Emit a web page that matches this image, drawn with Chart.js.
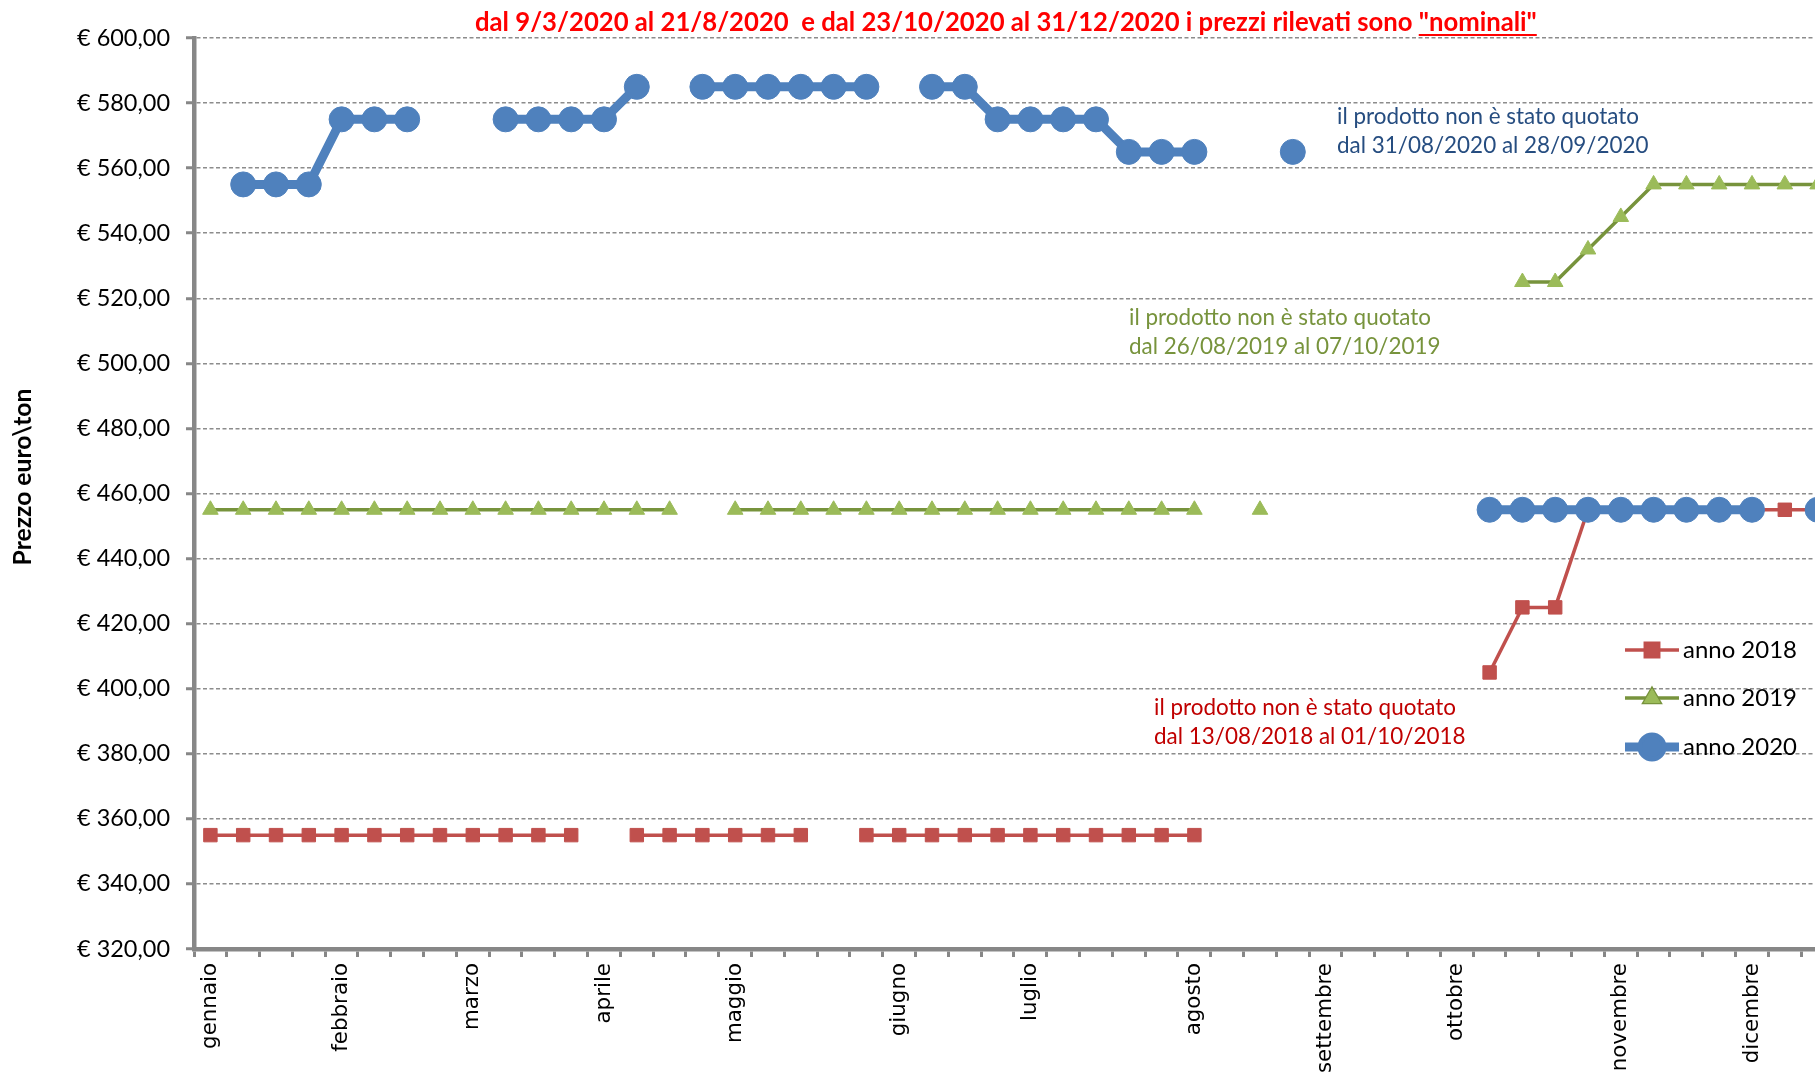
<!DOCTYPE html>
<html>
<head>
<meta charset="utf-8">
<script src="https://cdn.jsdelivr.net/npm/chart.js@4.4.1/dist/chart.umd.min.js"></script>
<style>
  html, body { margin: 0; padding: 0; background: #ffffff; overflow: hidden; }
  #wrap { position: relative; width: 1915px; height: 1079px; }
</style>
</head>
<body>
<div id="wrap"><canvas id="c"></canvas></div>
<script>
// ---- data ----
const weekLabels = ['gennaio','','','','febbraio','','','','marzo','','','','aprile','','','','maggio','','','','','giugno','','','','luglio','','','','','agosto','','','','settembre','','','','ottobre','','','','','novembre','','','','dicembre','','','',''];
const anno2018 = [355,355,355,355,355,355,355,355,355,355,355,355,null,355,355,355,355,355,355,null,355,355,355,355,355,355,355,355,355,355,355,null,null,null,null,null,null,null,null,405,425,425,455,455,455,455,455,455,455,455,null,null];
const anno2019 = [455,455,455,455,455,455,455,455,455,455,455,455,455,455,455,null,455,455,455,455,455,455,455,455,455,455,455,455,455,455,455,null,455,null,null,null,null,null,null,null,525,525,535,545,555,555,555,555,555,555,null,null];
const anno2020 = [null,555,555,555,575,575,575,null,null,575,575,575,575,585,null,585,585,585,585,585,585,null,585,585,575,575,575,575,565,565,565,null,null,565,null,null,null,null,null,455,455,455,455,455,455,455,455,455,null,455,null,null];
const yMin = 320, yMax = 600, yStep = 20;
const seriesNames = ['anno 2018', 'anno 2019', 'anno 2020'];
const titleMain = 'dal 9/3/2020 al 21/8/2020  e dal 23/10/2020 al 31/12/2020 i prezzi rilevati sono ';
const titleUnder = '"nominali"';
const noteLine1 = 'il prodotto non è stato quotato';
const note2020 = 'dal 31/08/2020 al 28/09/2020';
const note2019 = 'dal 26/08/2019 al 07/10/2019';
const note2018 = 'dal 13/08/2018 al 01/10/2018';
const yTitle = 'Prezzo euro\\ton';

// ---- font fitting helper ----
const mctx = document.createElement('canvas').getContext('2d');
function fit(text, weight, family, target) {
  mctx.font = weight + ' 100px ' + family;
  return 100 * target / mctx.measureText(text).width;
}
const SANS = 'Lato';
const yTickSize = fit('€ 480,00', 'normal', SANS, 93);
const xTickSize = fit('gennaio', 'normal', '"DejaVu Sans"', 86);
const legendSize = fit('anno 2018', 'normal', SANS, 114);
const noteSize = fit(noteLine1, 'normal', SANS, 302);
const titleSize = fit(titleMain + titleUnder, 'bold', SANS, 1062);
const yTitleSize = fit(yTitle, 'bold', SANS, 177);

const colors = {
  red: '#C0504D', green: '#77933C', greenFill: '#9BBB59', blue: '#4F81BD',
  grid: '#8c8c8c', axis: '#878787'
};

const fmt = v => '€ ' + v.toFixed(2).replace('.', ',');

const overlay = {
  id: 'overlay',
  afterDraw(chart) {
    const ctx = chart.ctx;
    ctx.save();
    // title
    ctx.fillStyle = '#FF0000';
    ctx.font = 'bold ' + titleSize + 'px ' + SANS;
    ctx.textBaseline = 'alphabetic';
    ctx.textAlign = 'left';
    const tx = 475, ty = 31;
    ctx.fillText(titleMain, tx, ty);
    const w1 = ctx.measureText(titleMain).width;
    ctx.fillText(titleUnder, tx + w1, ty);
    const w2 = ctx.measureText(titleUnder).width;
    ctx.fillRect(tx + w1, ty + 3, w2, 2);

    // y title
    ctx.save();
    ctx.translate(23, 477);
    ctx.rotate(-Math.PI / 2);
    ctx.fillStyle = '#000000';
    ctx.font = 'bold ' + yTitleSize + 'px ' + SANS;
    ctx.textAlign = 'center';
    ctx.textBaseline = 'middle';
    ctx.fillText(yTitle, 0, 0);
    ctx.restore();

    // notes
    ctx.font = noteSize + 'px ' + SANS;
    ctx.textBaseline = 'middle';
    ctx.textAlign = 'left';
    ctx.fillStyle = '#264d80';
    ctx.fillText(noteLine1, 1337, 117);
    ctx.fillText(note2020, 1337, 146);
    ctx.fillStyle = colors.green;
    ctx.fillText(noteLine1, 1129, 318);
    ctx.fillText(note2019, 1129, 347);
    ctx.fillStyle = '#C00000';
    ctx.fillText(noteLine1, 1154, 708);
    ctx.fillText(note2018, 1154, 737);

    // legend
    const ys = [650, 698, 747];
    chart.data.datasets.forEach((ds, i) => {
      const y = ys[i];
      ctx.strokeStyle = ds.borderColor;
      ctx.lineWidth = ds.borderWidth;
      ctx.beginPath();
      ctx.moveTo(1625, y);
      ctx.lineTo(1679, y);
      ctx.stroke();
      Chart.helpers.drawPoint(ctx, {
        pointStyle: ds.pointStyle,
        radius: i === 2 ? 10 : ds.pointRadius,
        rotation: 0,
        borderWidth: 1
      }, 1652, y);
      ctx.fillStyle = ds.pointBackgroundColor;
      ctx.strokeStyle = ds.pointBorderColor;
      ctx.lineWidth = 1;
      ctx.fill();
      ctx.stroke();
      ctx.fillStyle = '#000000';
      ctx.font = legendSize + 'px ' + SANS;
      ctx.textBaseline = 'middle';
      ctx.fillText(seriesNames[i], 1683, y);
    });
    ctx.restore();
  }
};

new Chart(document.getElementById('c'), {
  type: 'line',
  data: {
    labels: weekLabels,
    datasets: [
      {
        label: seriesNames[0], data: anno2018, order: 3,
        borderColor: colors.red, borderWidth: 3.5,
        pointStyle: 'rect', pointRadius: 9.5,
        pointBackgroundColor: colors.red, pointBorderColor: colors.red, pointBorderWidth: 1
      },
      {
        label: seriesNames[1], data: anno2019, order: 2,
        borderColor: colors.green, borderWidth: 3.5,
        pointStyle: 'triangle', pointRadius: 9,
        pointBackgroundColor: colors.greenFill, pointBorderColor: colors.greenFill, pointBorderWidth: 1
      },
      {
        label: seriesNames[2], data: anno2020, order: 1,
        borderColor: colors.blue, borderWidth: 9,
        pointStyle: 'circle', pointRadius: 12.5,
        pointBackgroundColor: colors.blue, pointBorderColor: colors.blue, pointBorderWidth: 1
      }
    ]
  },
  options: {
    responsive: true,
    maintainAspectRatio: false,
    animation: false,
    devicePixelRatio: 1,
    layout: { padding: { top: 38, left: 0, right: 0, bottom: 0 } },
    elements: { line: { tension: 0 } },
    plugins: { legend: { display: false }, tooltip: { enabled: false }, title: { display: false } },
    scales: {
      x: {
        type: 'category',
        offset: true,
        afterFit(s) { s.height = 130; },
        grid: {
          offset: true, drawOnChartArea: false, drawTicks: true,
          tickLength: 8, tickWidth: 3, tickColor: colors.axis
        },
        border: { display: true, color: colors.axis, width: 4.5 },
        ticks: {
          autoSkip: false, minRotation: 90, maxRotation: 90, padding: 6,
          color: '#000000', font: { family: 'DejaVu Sans', size: xTickSize }
        }
      },
      y: {
        min: yMin, max: yMax,
        afterFit(s) { s.width = 194; },
        grid: {
          color: colors.grid, lineWidth: 1.5,
          tickLength: 8, tickWidth: 3, tickColor: colors.axis
        },
        border: { display: true, color: colors.axis, width: 4.5, dash: [4, 2.5] },
        ticks: {
          stepSize: yStep, padding: 16, color: '#000000',
          font: { family: SANS, size: yTickSize },
          callback: v => fmt(v)
        }
      }
    }
  },
  plugins: [overlay]
});
</script>
</body>
</html>
